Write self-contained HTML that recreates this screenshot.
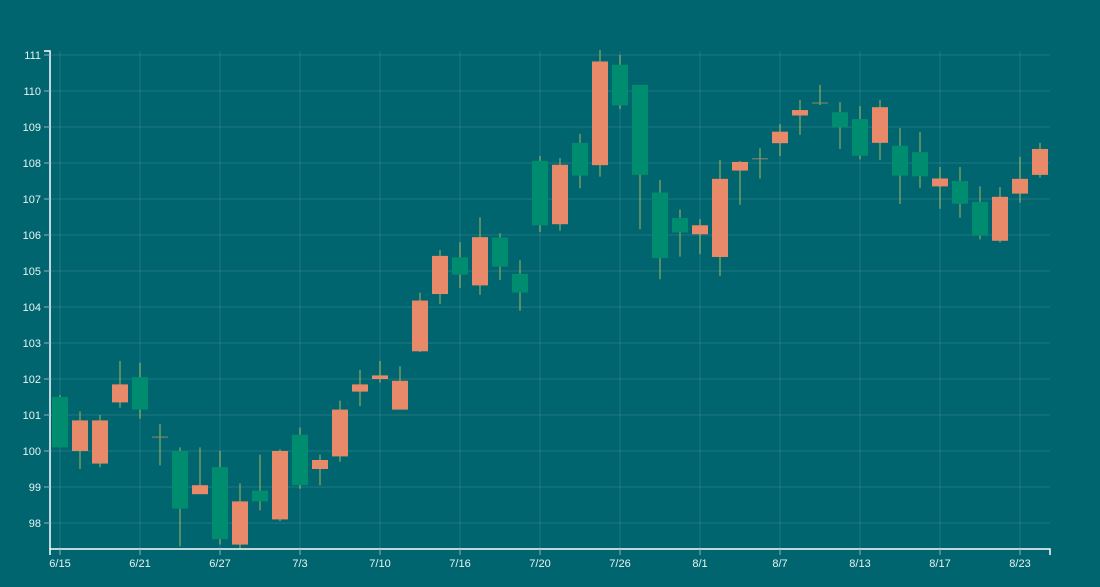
<!DOCTYPE html>
<html><head><meta charset="utf-8"><style>
html,body{margin:0;padding:0;background:#00656f;}
svg{display:block;font-family:"Liberation Sans",sans-serif;}
</style></head><body>
<svg id="chart" width="1100" height="587" viewBox="0 0 1100 587"></svg>
<script>
const dates=["6/15","","","","6/21","","","","6/27","","","","7/3","","","","7/10","","","","7/16","","","","7/20","","","","7/26","","","","8/1","","","","8/7","","","","8/13","","","","8/17","","","","8/23",""];
const opens=[101.5,100.0,99.65,101.35,102.05,100.4,100.0,98.8,99.55,97.4,98.9,98.1,100.45,99.5,99.85,101.65,102.0,101.15,102.77,104.36,105.38,104.6,105.93,104.92,108.06,106.3,108.56,107.94,110.73,110.17,107.18,106.47,106.02,105.39,107.79,108.13,108.55,109.32,109.68,109.41,109.22,108.56,108.48,108.3,107.35,107.5,106.92,105.84,107.15,107.67];
const closes=[100.1,100.85,100.85,101.85,101.15,100.4,98.4,99.05,97.55,98.6,98.6,100.0,99.05,99.75,101.15,101.85,102.1,101.95,104.18,105.42,104.9,105.94,105.12,104.4,106.27,107.95,107.65,110.82,109.6,107.67,105.36,106.07,106.27,107.56,108.03,108.13,108.87,109.47,109.68,108.99,108.2,109.55,107.65,107.63,107.57,106.87,105.98,107.06,107.56,108.39];
const highs=[101.55,101.1,101.0,102.5,102.45,100.75,100.1,100.1,100.0,99.1,99.9,100.05,100.65,99.9,101.4,102.25,102.5,102.35,104.4,105.58,105.8,106.49,106.05,105.3,108.19,108.14,108.81,111.14,111.0,110.17,107.53,106.71,106.44,108.08,108.06,108.41,109.08,109.75,110.17,109.69,109.58,109.75,108.97,108.86,107.89,107.89,107.35,107.33,108.17,108.56];
const lows=[100.1,99.5,99.55,101.2,100.9,99.6,97.35,98.8,97.4,97.3,98.35,98.05,98.95,99.05,99.7,101.25,101.9,101.15,102.75,104.08,104.53,104.34,104.75,103.9,106.08,106.12,107.3,107.62,109.5,106.16,104.77,105.4,105.47,104.86,106.84,107.57,108.19,108.78,109.61,108.39,108.1,108.08,106.86,107.31,106.73,106.48,105.88,105.79,106.9,107.59];
const yTicks=[98,99,100,101,102,103,104,105,106,107,108,109,110,111];

const NS="http://www.w3.org/2000/svg";
const svg=document.getElementById('chart');
const L=50,R=1050,T=51,B=549;
function xs(i){return 60+i*20;}
function ys(v){return 523-(v-98)*36;}
function mk(tag,attrs,parent){const e=document.createElementNS(NS,tag);for(const k in attrs)e.setAttribute(k,attrs[k]);(parent||svg).appendChild(e);return e;}

const grid=mk('g',{});


yTicks.forEach(v=>{
  const l=mk('line',{x1:L,x2:R,y1:ys(v),y2:ys(v),stroke:'rgba(255,255,255,0.06)','stroke-width':2},grid);
  
  
});
dates.forEach((d,i)=>{
  if(!d)return;
  const l=mk('line',{x1:xs(i),x2:xs(i),y1:T,y2:B,stroke:'rgba(255,255,255,0.06)','stroke-width':2},grid);
  
  
});

const candles=mk('g',{});


opens.forEach((o,i)=>{
  const c=closes[i];
  const g=mk('g',{},candles);
  
  
  const w=mk('line',{x1:xs(i),x2:xs(i),y1:ys(highs[i]),y2:ys(lows[i]),stroke:'#a9b85e','stroke-width':1},g);
  
  
  const top=ys(Math.max(o,c)),bot=ys(Math.min(o,c));
  const col=c>o?'#e88a6a':(c<o?'#008c6e':'#8c8a70');
  const b=mk('rect',{x:xs(i)-8,y:top,width:16,height:Math.max(1,bot-top),fill:col},g);
  
  
});

const ax=mk('g',{});


mk('path',{d:`M${L-6},${T}H${L}V${B}`,stroke:'#fff',fill:'none','stroke-width':1.5},ax);
yTicks.forEach(v=>{
  mk('line',{x1:L-6,x2:L,y1:ys(v),y2:ys(v),stroke:'#9ab','stroke-width':1},ax);
  const t=mk('text',{x:L-9,y:ys(v)+4,'text-anchor':'end','font-size':11,fill:'#e6f4f4'},ax);
  t.textContent=v;
  
  
});
const xa=mk('g',{});


mk('path',{d:`M${L},${B+6}V${B}H${R}V${B+6}`,stroke:'#fff',fill:'none','stroke-width':1.5},xa);
dates.forEach((d,i)=>{
  if(!d)return;
  mk('line',{x1:xs(i),x2:xs(i),y1:B,y2:B+6,stroke:'#9ab','stroke-width':1},xa);
  const t=mk('text',{x:xs(i),y:B+18,'text-anchor':'middle','font-size':11,fill:'#e6f4f4'},xa);
  t.textContent=d;
  
  
});
</script>
</body></html>
